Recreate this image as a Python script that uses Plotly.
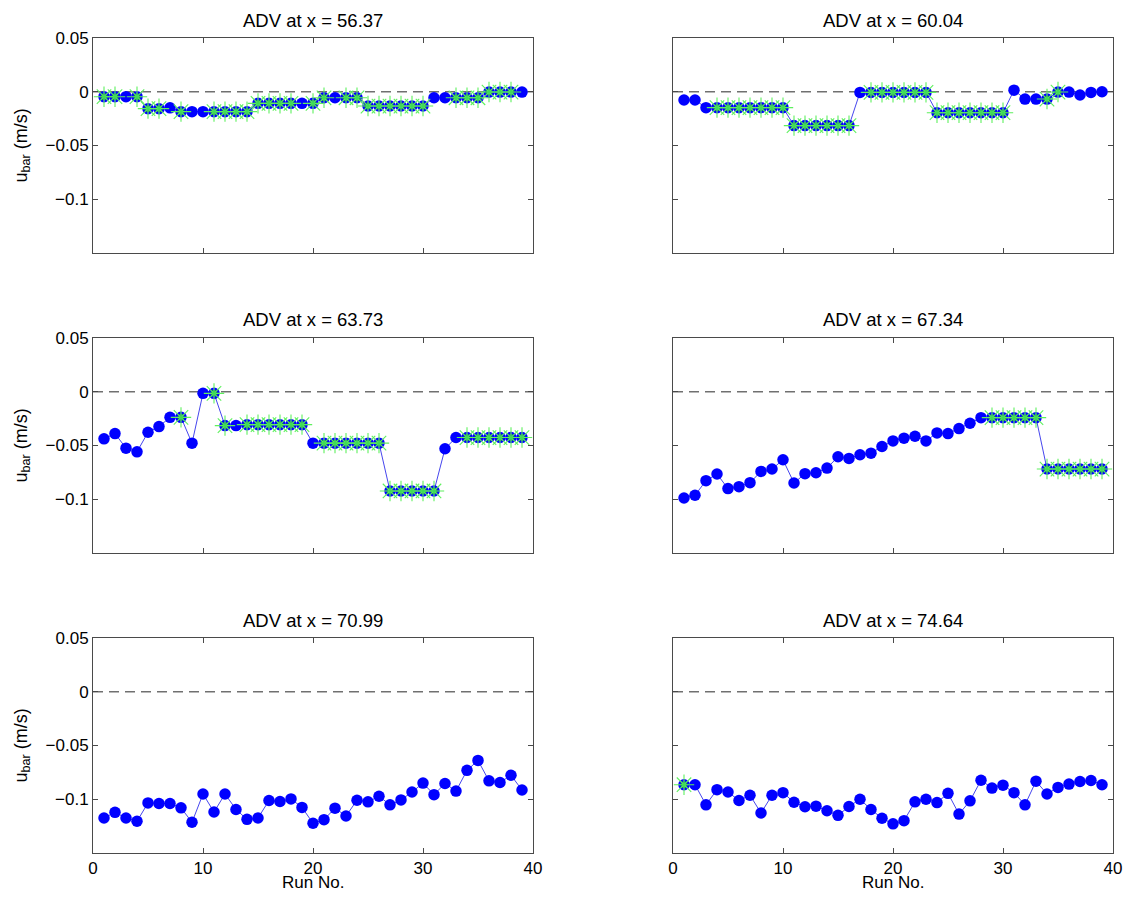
import plotly.graph_objects as go

# ---------------- data ----------------
runs = list(range(1, 40))

titles = ["ADV at x = 56.37", "ADV at x = 60.04", "ADV at x = 63.73",
          "ADV at x = 67.34", "ADV at x = 70.99", "ADV at x = 74.64"]

u_5637 = [-0.0046, -0.0046, -0.0046, -0.0046, -0.0157, -0.0157, -0.0150, -0.0185,
          -0.0185, -0.0185, -0.0185, -0.0185, -0.0185, -0.0185, -0.0108, -0.0108,
          -0.0108, -0.0108, -0.0108, -0.0108, -0.0056, -0.0056, -0.0056, -0.0056,
          -0.0133, -0.0133, -0.0133, -0.0133, -0.0133, -0.0133, -0.0056, -0.0056,
          -0.0056, -0.0056, -0.0056, -0.0003, -0.0003, -0.0003, -0.0003]
g_5637 = [1, 2, 4, 5, 6, 8, 11, 12, 13, 14, 15, 16, 17, 18, 20, 21, 23, 24,
          25, 26, 27, 28, 29, 30, 33, 34, 35, 36, 37, 38]

u_6004 = [-0.0077, -0.0077, -0.0148, -0.0148, -0.0148, -0.0148, -0.0148, -0.0148,
          -0.0148, -0.0148, -0.0315, -0.0315, -0.0315, -0.0315, -0.0315, -0.0315,
          -0.0006, -0.0006, -0.0006, -0.0006, -0.0006, -0.0006, -0.0006, -0.0195,
          -0.0195, -0.0195, -0.0195, -0.0195, -0.0195, -0.0195, 0.0015, -0.0068,
          -0.0068, -0.0068, -0.0003, -0.0003, -0.0030, -0.0006, 0.0000]
g_6004 = [4, 5, 6, 7, 8, 9, 10, 11, 12, 13, 14, 15, 16, 18, 19, 20, 21, 22, 23,
          24, 25, 26, 27, 28, 29, 30, 34, 35]

u_6373 = [-0.0438, -0.0389, -0.0525, -0.0559, -0.0377, -0.0324, -0.0238, -0.0238,
          -0.0478, -0.0015, -0.0015, -0.0315, -0.0315, -0.0306, -0.0306, -0.0306,
          -0.0306, -0.0306, -0.0306, -0.0478, -0.0478, -0.0478, -0.0478, -0.0478,
          -0.0478, -0.0478, -0.0923, -0.0923, -0.0923, -0.0923, -0.0923, -0.0530,
          -0.0426, -0.0426, -0.0426, -0.0426, -0.0426, -0.0426, -0.0426]
g_6373 = [8, 11, 12, 14, 15, 16, 17, 18, 19, 21, 22, 23, 24, 25, 26,
          27, 28, 29, 30, 31, 34, 35, 36, 37, 38, 39]

u_6734 = [-0.0988, -0.0963, -0.0827, -0.0765, -0.0901, -0.0883, -0.0846, -0.0741,
          -0.0719, -0.0633, -0.0849, -0.0762, -0.0753, -0.0710, -0.0605, -0.0620,
          -0.0586, -0.0571, -0.0509, -0.0457, -0.0432, -0.0414, -0.0457, -0.0383,
          -0.0389, -0.0343, -0.0293, -0.0241, -0.0241, -0.0241, -0.0241, -0.0241,
          -0.0241, -0.0719, -0.0719, -0.0719, -0.0719, -0.0719, -0.0719]
g_6734 = [29, 30, 31, 32, 33, 34, 35, 36, 37, 38, 39]

u_7099 = [-0.1174, -0.1122, -0.1174, -0.1205, -0.1034, -0.1040, -0.1040, -0.1080,
          -0.1214, -0.0951, -0.1119, -0.0951, -0.1095, -0.1187, -0.1174, -0.1012,
          -0.1021, -0.0997, -0.1076, -0.1223, -0.1190, -0.1083, -0.1156, -0.1009,
          -0.1024, -0.0972, -0.1052, -0.1006, -0.0933, -0.0850, -0.0957, -0.0853,
          -0.0924, -0.0731, -0.0639, -0.0829, -0.0844, -0.0777, -0.0914]
g_7099 = []

u_7464 = [-0.0865, -0.0865, -0.1052, -0.0911, -0.0933, -0.1012, -0.0963, -0.1128,
          -0.0963, -0.0939, -0.1028, -0.1070, -0.1064, -0.1107, -0.1150, -0.1067,
          -0.1000, -0.1095, -0.1177, -0.1229, -0.1199, -0.1024, -0.1000, -0.1031,
          -0.0945, -0.1138, -0.1015, -0.0823, -0.0896, -0.0869, -0.0939, -0.1052,
          -0.0832, -0.0951, -0.0890, -0.0859, -0.0835, -0.0826, -0.0865]
g_7464 = [1]

series = [u_5637, u_6004, u_6373, u_6734, u_7099, u_7464]
greens = [g_5637, g_6004, g_6373, g_6734, g_7099, g_7464]

ref_x = [0, 40]
ref_y = [0, 0]

y_tickvals = [-0.1, -0.05, 0, 0.05]
y_ticktext = ["\u22120.1", "\u22120.05", "0", "0.05"]
x_tickvals = [0, 10, 20, 30, 40]
x_ticktext = ["0", "10", "20", "30", "40"]

# ---------------- layout ----------------
# page body adds an 8 px margin; size the figure so it fits the window exactly
OFF = 8
W, H = 1131 - 2 * OFF, 898 - 2 * OFF
col_px = [(93, 533), (673, 1113)]          # panel edges in window pixels
row_px = [(38, 253), (338, 553), (638, 853)]


def px(x):
    return (x - OFF) / W


def py(y):
    return 1 - (y - OFF) / H


FONT = "Liberation Sans, Arial, Helvetica, sans-serif"
AX_COLOR = "#4a4a4a"

fig = go.Figure()
layout = dict(template="none", width=W, height=H,
              margin=dict(l=0, r=0, t=0, b=0, pad=0, autoexpand=False),
              paper_bgcolor="white", plot_bgcolor="white", showlegend=False,
              font=dict(family=FONT, size=17, color="black"))
annotations = []

for i in range(6):
    r, c = divmod(i, 2)
    n = i + 1
    xa = "x" if n == 1 else f"x{n}"
    ya = "y" if n == 1 else f"y{n}"
    x0, x1 = col_px[c]
    y0, y1 = row_px[r]
    layout["xaxis" if n == 1 else f"xaxis{n}"] = dict(
        domain=[px(x0), px(x1)], range=[0, 40], anchor=ya, automargin=False,
        showline=True, mirror="ticks", linecolor=AX_COLOR, linewidth=1,
        ticks="inside", ticklen=5, tickcolor=AX_COLOR,
        tickvals=x_tickvals, ticktext=x_ticktext,
        showticklabels=(r == 2), showgrid=False, zeroline=False,
        tickfont=dict(family=FONT, size=17, color="black"))
    layout["yaxis" if n == 1 else f"yaxis{n}"] = dict(
        domain=[py(y1), py(y0)], range=[-0.15, 0.05], anchor=xa, automargin=False,
        showline=True, mirror="ticks", linecolor=AX_COLOR, linewidth=1,
        ticks="inside", ticklen=5, tickcolor=AX_COLOR,
        tickvals=y_tickvals, ticktext=y_ticktext,
        showticklabels=(c == 0), showgrid=False, zeroline=False,
        tickfont=dict(family=FONT, size=17, color="black"))

    vals = series[i]
    fig.add_trace(go.Scatter(x=ref_x, y=ref_y, xaxis=xa, yaxis=ya, mode="lines",
                             line=dict(color="#707070", width=1.3, dash="10px,6px"),
                             hoverinfo="skip"))
    fig.add_trace(go.Scatter(x=runs, y=vals, xaxis=xa, yaxis=ya, mode="lines+markers",
                             line=dict(color="#4646ee", width=1),
                             marker=dict(symbol="circle", size=11.5, color="#0000ff",
                                         line=dict(width=0))))
    gx = [runs[k - 1] for k in greens[i]]
    gy = [vals[k - 1] for k in greens[i]]
    if gx:
        fig.add_trace(go.Scatter(x=gx, y=gy, xaxis=xa, yaxis=ya, mode="markers",
                                 marker=dict(symbol="circle", size=7, color="#137a6a",
                                             line=dict(width=0))))
        fig.add_trace(go.Scatter(x=gx, y=gy, xaxis=xa, yaxis=ya, mode="markers",
                                 marker=dict(symbol="asterisk-open", size=17, color="#5ef05e",
                                             line=dict(color="#5ef05e", width=1.1))))
        fig.add_trace(go.Scatter(x=gx, y=gy, xaxis=xa, yaxis=ya, mode="markers",
                                 marker=dict(symbol="circle", size=3.5, color="#3ddc55",
                                             line=dict(width=0))))

    annotations.append(dict(text=titles[i], xref="paper", yref="paper",
                            x=px((x0 + x1) / 2), y=py(y0 - 18),
                            xanchor="center", yanchor="middle", showarrow=False,
                            font=dict(family=FONT, size=18.5, color="black")))
    if c == 0:
        annotations.append(dict(text="u<sub>bar</sub> (m/s)", xref="paper", yref="paper",
                                x=px(22), y=py((y0 + y1) / 2),
                                xanchor="center", yanchor="middle", textangle=-90,
                                showarrow=False,
                                font=dict(family=FONT, size=18, color="black")))
    if r == 2:
        annotations.append(dict(text="Run No.", xref="paper", yref="paper",
                                x=px((x0 + x1) / 2), y=py(882),
                                xanchor="center", yanchor="middle", showarrow=False,
                                font=dict(family=FONT, size=17, color="black")))

layout["annotations"] = annotations
fig.update_layout(**layout)
fig.write_html("out.html")
